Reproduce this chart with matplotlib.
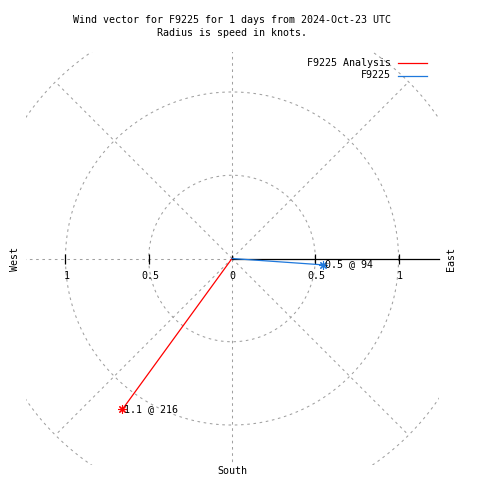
import numpy as np
import matplotlib
matplotlib.use("Agg")
from matplotlib import pyplot as plt

# wind vectors: (name, speed in knots, bearing in degrees)
names = ["F9225 Analysis", "F9225"]
speeds = [1.12, 0.546]
bearings = [216, 94]
colors = ["#ff0000", "#1e78dc"]

grid_radii = [0.5, 1.0, 1.5]
spoke_angles = [0, 45, 90, 135, 180, 225, 270, 315]
r_ticks = [0.5, 1.0]
lim = 1.24

FONT = "DejaVu Sans Mono"
FS = 7.2
GRID = dict(color="#a0a0a0", lw=0.75, ls=(0, (2.5, 3.5)))

fig = plt.figure(figsize=(4.8, 4.8), dpi=100)
ax = fig.add_axes([25 / 480, 15 / 480, 414 / 480, 413 / 480])
ax.set_xlim(-lim, lim)
ax.set_ylim(-lim, lim)
ax.set_aspect("equal")
ax.axis("off")

# dashed grid circles and spokes
t = np.linspace(0, 2 * np.pi, 400)
for r in grid_radii:
    ax.plot(r * np.cos(t), r * np.sin(t), **GRID)
for a in spoke_angles:
    if a == 90:
        continue  # east spoke is the solid axis
    th = np.radians(a)
    ax.plot([0, 1.5 * np.sin(th)], [0, 1.5 * np.cos(th)], **GRID)

# solid polar axis to the east
ax.plot([0, lim], [0, 0], color="black", lw=0.9, clip_on=False)
ax.plot([0], [0], marker=2, color="black", ms=3, mew=0.9)
tx = [-r for r in r_ticks] + r_ticks
ax.plot(tx, [0] * len(tx), ls="none", marker="|", color="black", ms=6.5, mew=0.9)

# tick labels
def lab(v):
    return "%g" % v

for r in r_ticks:
    for x in (-r, r):
        ax.annotate(lab(r), (x, 0), xytext=(1, -12.8), textcoords="offset points",
                    ha="center", va="center", family=FONT, fontsize=FS)
ax.annotate("0", (0, 0), xytext=(0.5, -12.6), textcoords="offset points",
            ha="center", va="center", family=FONT, fontsize=FS)

# wind vectors
for name, s, b, c in zip(names, speeds, bearings, colors):
    x = s * np.sin(np.radians(b))
    y = s * np.cos(np.radians(b))
    ax.plot([0, x], [0, y], color=c, lw=0.9, label=name)
    ax.plot([x], [y], ls="none", marker=(8, 2, 0), color=c, ms=6, mew=0.8)
    ax.annotate("%.1f @ %d" % (s, b), (x, y), xytext=(1.5, 0.3),
                textcoords="offset points", ha="left", va="center",
                family=FONT, fontsize=FS)

# compass labels
fig.text(15 / 480, 1 - 259 / 480, "West", rotation=90, ha="center", va="center",
         family=FONT, fontsize=FS)
fig.text(451 / 480, 1 - 259 / 480, "East", rotation=90, ha="center", va="center",
         family=FONT, fontsize=FS)
fig.text(232 / 480, 1 - 471 / 480, "South", ha="center", va="center",
         family=FONT, fontsize=FS)

# title
fig.text(232 / 480, 1 - 20 / 480, "Wind vector for F9225 for 1 days from 2024-Oct-23 UTC",
         ha="center", va="center", family=FONT, fontsize=FS)
fig.text(232 / 480, 1 - 33 / 480, "Radius is speed in knots.",
         ha="center", va="center", family=FONT, fontsize=FS)

# legend (gnuplot style: text right, sample line after)
for i, (name, c) in enumerate(zip(names, colors)):
    yy = 1 - (62.5 + 13 * i) / 480
    fig.text(391 / 480, yy, name, ha="right", va="center", family=FONT, fontsize=FS)
    fig.add_artist(plt.Line2D([398 / 480, 427 / 480], [yy, yy], color=c, lw=0.9,
                              transform=fig.transFigure))

fig.savefig("out.png", dpi=100)
